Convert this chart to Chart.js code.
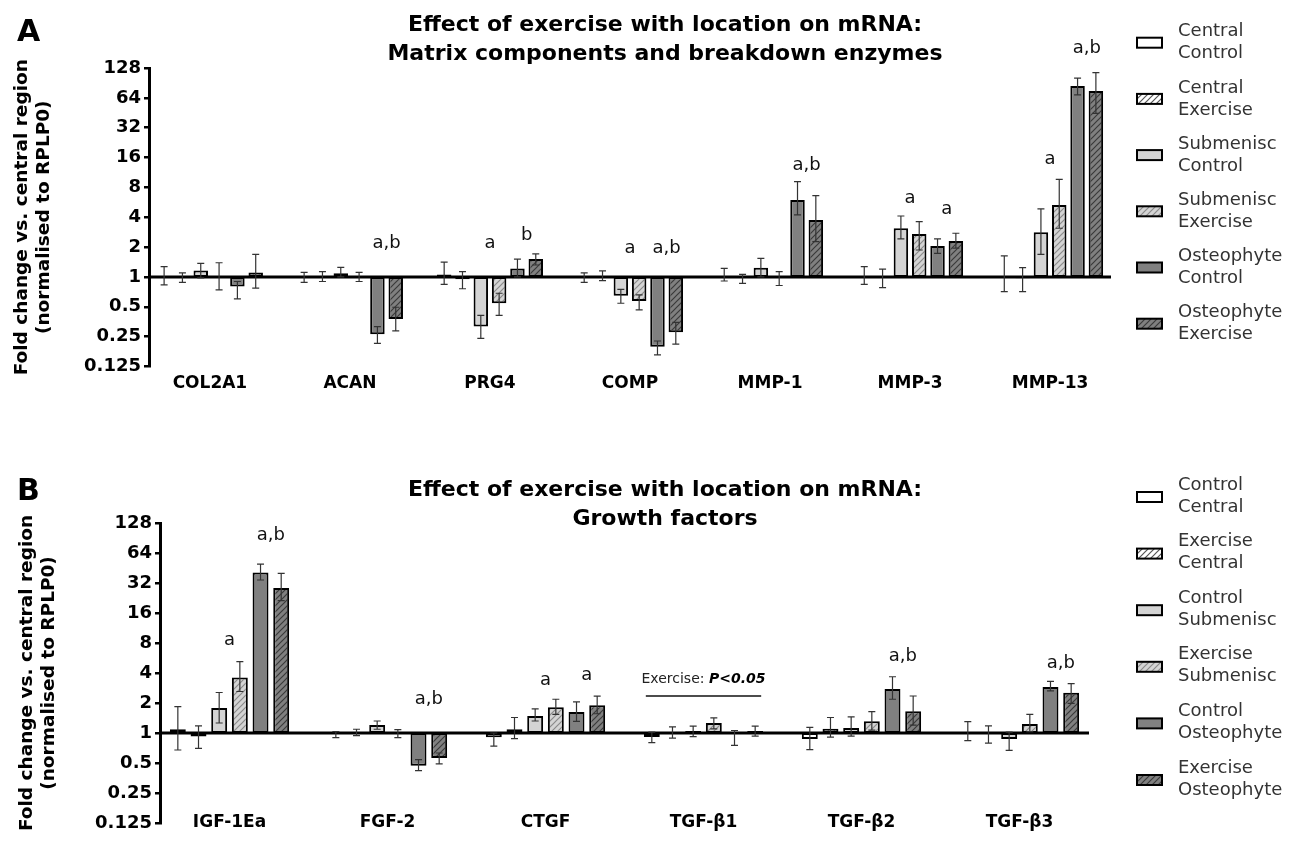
<!DOCTYPE html>
<html>
<head>
<meta charset="utf-8">
<title>Effect of exercise with location on mRNA</title>
<script src="https://cdn.jsdelivr.net/npm/chart.js@4.4.1/dist/chart.umd.min.js"></script>
<style>
  body { margin: 0; background: #fff; }
  .panel { position: absolute; left: 0; width: 1296px; height: 425px; }
  #wrapA { top: 0; }
  #wrapB { top: 425px; }
</style>
</head>
<body>
<div class="panel" id="wrapA"><canvas id="chartA" width="1296" height="425"></canvas></div>
<div class="panel" id="wrapB"><canvas id="chartB" width="1296" height="425"></canvas></div>
<script>
// =============================================
// Exercise x location mRNA fold changes (log2 axis)
// =============================================

const FOLD_TICKS = [0.125, 0.25, 0.5, 1, 2, 4, 8, 16, 32, 64, 128];

// ─── PANEL A DATA ────────────────────────────────────────
const GENES_A = ['COL2A1', 'ACAN', 'PRG4', 'COMP', 'MMP-1', 'MMP-3', 'MMP-13'];
const SERIES_A = [
  ['Central', 'Control'], ['Central', 'Exercise'],
  ['Submenisc', 'Control'], ['Submenisc', 'Exercise'],
  ['Osteophyte', 'Control'], ['Osteophyte', 'Exercise'],
];
// rows = series, cols = genes
const MEAN_A = [
  [1.00, 1.00, 1.06, 1.00, 1.00, 1.00, 1.02],
  [1.00, 1.00, 0.95, 1.00, 0.98, 1.00, 0.97],
  [1.16, 1.09, 0.316, 0.648, 1.24, 3.10, 2.82],
  [1.01, 0.99, 0.543, 0.573, 0.99, 2.71, 5.32],
  [0.80, 0.264, 1.22, 0.198, 5.97, 2.05, 84.4],
  [1.11, 0.377, 1.52, 0.277, 3.75, 2.31, 75],
];
const LO_A = [
  [0.83, 0.88, 0.84, 0.88, 0.91, 0.84, 0.71],
  [0.88, 0.90, 0.76, 0.92, 0.86, 0.78, 0.71],
  [0.98, 1.00, 0.24, 0.543, 1.00, 2.42, 1.69],
  [0.74, 0.90, 0.41, 0.465, 0.82, 1.87, 3.10],
  [0.60, 0.214, 1.00, 0.164, 4.22, 1.73, 68.5],
  [0.77, 0.286, 1.32, 0.21, 2.27, 1.95, 44.7],
];
const HI_A = [
  [1.27, 1.11, 1.41, 1.10, 1.22, 1.27, 1.63],
  [1.10, 1.13, 1.13, 1.15, 1.06, 1.20, 1.24],
  [1.37, 1.25, 0.41, 0.75, 1.54, 4.12, 4.85],
  [1.39, 1.11, 0.685, 0.66, 1.13, 3.61, 9.66],
  [0.90, 0.316, 1.51, 0.226, 9.14, 2.42, 101],
  [1.69, 0.495, 1.71, 0.349, 6.60, 2.76, 115],
];
// [gene, first bar of pair, text, fold level]
const NOTES_A = [
  ['ACAN', 4, 'a,b', 2.2],
  ['PRG4', 2, 'a', 2.2],
  ['PRG4', 4, 'b', 2.65],
  ['COMP', 2, 'a', 1.96],
  ['COMP', 4, 'a,b', 1.96],
  ['MMP-1', 4, 'a,b', 13.5],
  ['MMP-3', 2, 'a', 6.26],
  ['MMP-3', 4, 'a', 4.85],
  ['MMP-13', 2, 'a', 15.5],
  ['MMP-13', 4, 'a,b', 204],
];

// ─── PANEL B DATA ────────────────────────────────────────
const GENES_B = ['IGF-1Ea', 'FGF-2', 'CTGF', 'TGF-β1', 'TGF-β2', 'TGF-β3'];
const SERIES_B = [
  ['Control', 'Central'], ['Exercise', 'Central'],
  ['Control', 'Submenisc'], ['Exercise', 'Submenisc'],
  ['Control', 'Osteophyte'], ['Exercise', 'Osteophyte'],
];
const MEAN_B = [
  [1.09, 1.00, 0.905, 0.91, 0.87, 1.00],
  [0.92, 1.00, 1.09, 1.02, 1.10, 0.99],
  [1.78, 1.20, 1.48, 1.05, 1.12, 0.87],
  [3.61, 0.99, 1.81, 1.26, 1.31, 1.23],
  [40.9, 0.47, 1.62, 0.98, 2.76, 2.90],
  [28.5, 0.56, 1.90, 1.05, 1.65, 2.54],
];
const LO_B = [
  [0.675, 0.90, 0.74, 0.80, 0.68, 0.84],
  [0.70, 0.94, 0.88, 0.89, 0.91, 0.79],
  [1.26, 1.09, 1.32, 0.92, 0.93, 0.67],
  [2.61, 0.90, 1.54, 1.10, 1.07, 1.03],
  [34.3, 0.42, 1.31, 0.75, 2.18, 2.65],
  [21.3, 0.49, 1.56, 0.93, 1.20, 1.98],
];
const HI_B = [
  [1.84, 1.03, 1.00, 1.02, 1.14, 1.30],
  [1.18, 1.09, 1.43, 1.15, 1.43, 1.18],
  [2.55, 1.32, 1.75, 1.17, 1.45, 1.02],
  [5.20, 1.08, 2.18, 1.42, 1.64, 1.54],
  [49.6, 0.54, 2.05, 1.06, 3.67, 3.30],
  [40.0, 0.63, 2.34, 1.17, 2.35, 3.13],
];
const NOTES_B = [
  ['IGF-1Ea', 2, 'a', 8.57],
  ['IGF-1Ea', 4, 'a,b', 97],
  ['FGF-2', 4, 'a,b', 2.19],
  ['CTGF', 2, 'a', 3.4],
  ['CTGF', 4, 'a', 3.8],
  ['TGF-β2', 4, 'a,b', 5.93],
  ['TGF-β3', 4, 'a,b', 5.04],
];
// exercise main effect bracket over TGF-β1
const BRACKET_B = { gene: 'TGF-β1', lineLevel: 2.35, textLevel: 3.48, text: 'Exercise: ', bold: 'P<0.05' };

// ─── STYLE ───────────────────────────────────────────────
const FONT = "'DejaVu Sans', sans-serif";
Chart.defaults.font.family = FONT;
Chart.defaults.color = '#000';

function hatch(bg, fg) {
  const c = document.createElement('canvas');
  c.width = 6; c.height = 6;
  const g = c.getContext('2d');
  g.fillStyle = bg;
  g.fillRect(0, 0, 6, 6);
  g.strokeStyle = fg;
  g.lineWidth = 1.2;
  g.beginPath();
  g.moveTo(0, 6); g.lineTo(6, 0);
  g.moveTo(-1, 1); g.lineTo(1, -1);
  g.moveTo(5, 7); g.lineTo(7, 5);
  g.stroke();
  return g.createPattern(c, 'repeat');
}

const FILLS = [
  '#ffffff',
  hatch('#ffffff', '#555555'),
  '#d4d4d4',
  hatch('#d4d4d4', '#8a8a8a'),
  '#808080',
  hatch('#808080', '#3a3a3a'),
];

// ─── DRAWING PLUGIN ──────────────────────────────────────
const decor = {
  id: 'decor',
  afterDatasetsDraw(chart) {
    const { ctx, chartArea: ca, scales: { x, y } } = chart;
    const y1 = y.getPixelForValue(1);
    ctx.save();
    ctx.strokeStyle = '#000';
    ctx.lineWidth = 3;
    ctx.beginPath();
    ctx.moveTo(ca.left, y1);
    ctx.lineTo(ca.right, y1);
    ctx.stroke();

    // error bars
    ctx.strokeStyle = '#333';
    ctx.lineWidth = 1.2;
    chart.data.datasets.forEach((ds, di) => {
      chart.getDatasetMeta(di).data.forEach((bar, i) => {
        const top = y.getPixelForValue(ds.errHi[i]);
        const bot = y.getPixelForValue(ds.errLo[i]);
        ctx.beginPath();
        ctx.moveTo(bar.x, top); ctx.lineTo(bar.x, bot);
        ctx.moveTo(bar.x - 3.5, top); ctx.lineTo(bar.x + 3.5, top);
        ctx.moveTo(bar.x - 3.5, bot); ctx.lineTo(bar.x + 3.5, bot);
        ctx.stroke();
      });
    });
    ctx.restore();
  },
  afterDraw(chart, args, o) {
    const { ctx, scales: { y } } = chart;
    ctx.save();
    ctx.fillStyle = '#000';
    ctx.textBaseline = 'middle';

    // panel letter
    ctx.font = `bold 30px ${FONT}`;
    ctx.textAlign = 'left';
    ctx.fillText(o.letter, 17, o.letterY);

    // title
    ctx.font = `bold 22px ${FONT}`;
    ctx.textAlign = 'center';
    o.title.forEach((t, k) => ctx.fillText(t, o.titleX, o.titleY + k * 29));

    // significance letters
    ctx.font = `18px ${FONT}`;
    ctx.fillStyle = '#111';
    o.notes.forEach(([gene, b, text, level]) => {
      const gi = o.genes.indexOf(gene);
      const xa = chart.getDatasetMeta(b).data[gi].x;
      const xb = chart.getDatasetMeta(b + 1).data[gi].x;
      ctx.fillText(text, (xa + xb) / 2, y.getPixelForValue(level));
    });

    // bracket
    if (o.bracket) {
      const br = o.bracket;
      const gi = o.genes.indexOf(br.gene);
      const x0 = chart.getDatasetMeta(0).data[gi].x - 6;
      const x1 = chart.getDatasetMeta(5).data[gi].x + 6;
      const ly = y.getPixelForValue(br.lineLevel);
      ctx.strokeStyle = '#111';
      ctx.lineWidth = 1.5;
      ctx.beginPath();
      ctx.moveTo(x0, ly); ctx.lineTo(x1, ly);
      ctx.stroke();
      const ty = y.getPixelForValue(br.textLevel);
      ctx.font = `14px ${FONT}`;
      const w1 = ctx.measureText(br.text).width;
      ctx.font = `italic bold 14px ${FONT}`;
      const w2 = ctx.measureText(br.bold).width;
      const sx = (x0 + x1) / 2 - (w1 + w2) / 2;
      ctx.textAlign = 'left';
      ctx.font = `14px ${FONT}`;
      ctx.fillStyle = '#222';
      ctx.fillText(br.text, sx, ty);
      ctx.font = `italic bold 14px ${FONT}`;
      ctx.fillStyle = '#000';
      ctx.fillText(br.bold, sx + w1, ty);
    }

    // legend
    const lg = o.legend;
    ctx.textAlign = 'left';
    ctx.font = `18px ${FONT}`;
    chart.data.datasets.forEach((ds, i) => {
      const ty = lg.top + i * lg.step;
      ctx.fillStyle = ds.backgroundColor;
      ctx.fillRect(lg.x, ty + lg.boxDy, 25, 10);
      ctx.strokeStyle = '#000';
      ctx.lineWidth = 2;
      ctx.strokeRect(lg.x, ty + lg.boxDy, 25, 10);
      ctx.fillStyle = '#333';
      ds.lines.forEach((t, k) => ctx.fillText(t, lg.x + 41, ty + k * 22));
    });
    ctx.restore();
  }
};

// ─── PANEL FACTORY ───────────────────────────────────────
function makePanel(canvasId, d, lay) {
  const datasets = d.series.map((lines, s) => ({
    label: lines.join(' '),
    lines,
    data: d.genes.map((g, i) => ({ x: i, y: [1, d.mean[s][i]] })),
    errLo: d.lo[s],
    errHi: d.hi[s],
    backgroundColor: FILLS[s],
    borderColor: '#000',
    borderWidth: 2,
    borderSkipped: false,
    categoryPercentage: 0.785,
    barPercentage: lay.barPct,
  }));

  return new Chart(document.getElementById(canvasId), {
    type: 'bar',
    data: { datasets },
    plugins: [decor],
    options: {
      responsive: false,
      animation: false,
      layout: { padding: { top: lay.top, right: lay.right, bottom: lay.bottom, left: 0 } },
      plugins: {
        legend: { display: false },
        tooltip: { enabled: false },
        decor: {
          letter: lay.letter, letterY: lay.letterY,
          title: lay.title, titleX: 665, titleY: lay.titleY,
          genes: d.genes, notes: d.notes, bracket: d.bracket,
          legend: lay.legend,
        },
      },
      scales: {
        x: {
          type: 'linear',
          bounds: 'data',
          offset: false,
          min: lay.xMin,
          max: lay.xMax,
          grid: { display: false, drawTicks: false },
          border: { display: false },
          ticks: {
            autoSkip: false, maxRotation: 0,
            mirror: lay.xMirror,
            padding: lay.xPad,
            font: { size: 17, weight: 'bold' },
            color: '#000',
            callback: v => d.genes[v],
          },
          afterBuildTicks: s => {
            s.min = lay.xMin;
            s.max = lay.xMax;
            s.ticks = d.genes.map((g, i) => ({ value: i }));
          },
          afterFit: s => { s.height = lay.xHeight; },
        },
        y: {
          type: 'logarithmic',
          min: 0.125,
          max: 128,
          grid: { drawOnChartArea: false, drawTicks: true, tickLength: 5, color: '#000', lineWidth: 2.5 },
          border: { display: true, color: '#000', width: 3 },
          ticks: {
            padding: 3,
            font: { size: 18, weight: 'bold' },
            color: '#000',
            callback: v => String(v),
          },
          title: {
            display: true,
            text: ['Fold change vs. central region', '(normalised to RPLP0)'],
            font: { size: 18.5, weight: 'bold', lineHeight: 1.19 },
            color: '#000',
            padding: { top: lay.yTitlePad, bottom: 0 },
          },
          afterBuildTicks: s => { s.ticks = FOLD_TICKS.map(v => ({ value: v })); },
          afterFit: s => { s.width = lay.axisX; },
        },
      },
    },
  });
}

makePanel('chartA',
  { genes: GENES_A, series: SERIES_A, mean: MEAN_A, lo: LO_A, hi: HI_A, notes: NOTES_A },
  {
    letter: 'A', letterY: 33,
    title: ['Effect of exercise with location on mRNA:', 'Matrix components and breakdown enzymes'],
    titleY: 25,
    top: 68, bottom: 18.5, right: 185, axisX: 149,
    xMin: -0.435, xMax: 6.435, xMirror: false, xPad: 7, xHeight: 40, barPct: 0.79,
    yTitlePad: 11,
    legend: { x: 1137, top: 31.7, step: 56.2, boxDy: 6 },
  });

makePanel('chartB',
  { genes: GENES_B, series: SERIES_B, mean: MEAN_B, lo: LO_B, hi: HI_B, notes: NOTES_B, bracket: BRACKET_B },
  {
    letter: 'B', letterY: 67,
    title: ['Effect of exercise with location on mRNA:', 'Growth factors'],
    titleY: 65,
    top: 98, bottom: 7, right: 207, axisX: 160,
    xMin: -0.44, xMax: 5.44, xMirror: true, xPad: -10, xHeight: 20, barPct: 0.77,
    yTitlePad: 16,
    legend: { x: 1137, top: 60, step: 56.6, boxDy: 7 },
  });
</script>
</body>
</html>
